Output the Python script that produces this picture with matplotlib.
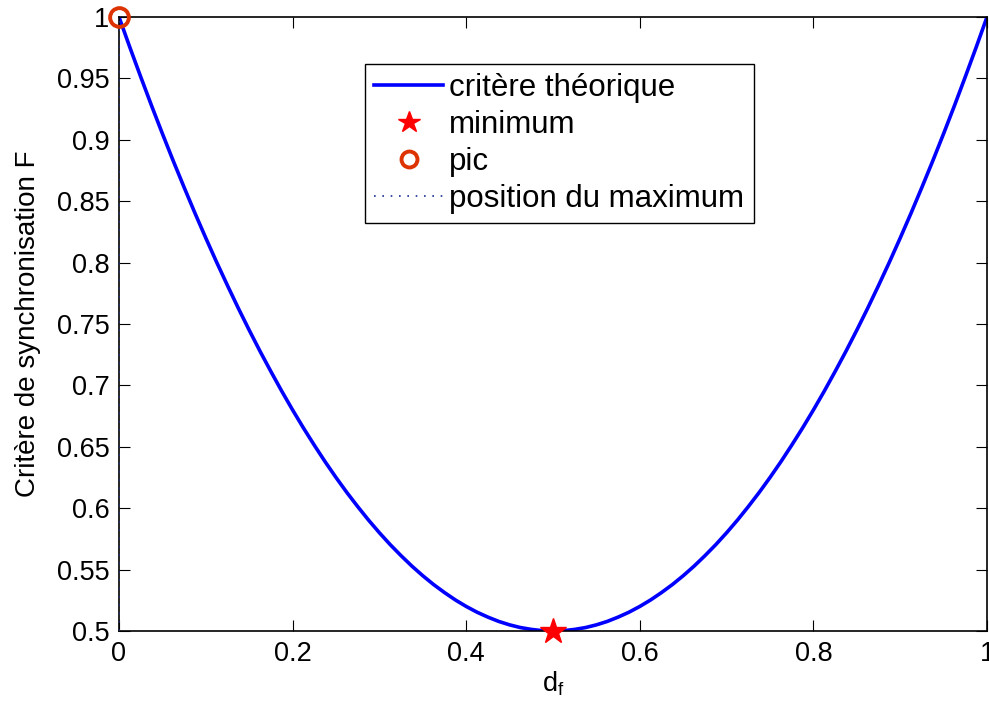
import numpy as np
import matplotlib
matplotlib.use("Agg")
import matplotlib.pyplot as plt

d_f = np.linspace(0, 1, 81)
critere = [1.0, 0.9753, 0.9513, 0.9278, 0.905, 0.8828, 0.8613, 0.8403, 0.82, 0.8003,
           0.7813, 0.7628, 0.745, 0.7278, 0.7113, 0.6953, 0.68, 0.6653, 0.6513, 0.6378,
           0.625, 0.6128, 0.6013, 0.5903, 0.58, 0.5703, 0.5613, 0.5528, 0.545, 0.5378,
           0.5313, 0.5253, 0.52, 0.5153, 0.5113, 0.5078, 0.505, 0.5028, 0.5013, 0.5003,
           0.5,
           0.5003, 0.5013, 0.5028, 0.505, 0.5078, 0.5113, 0.5153, 0.52, 0.5253, 0.5313,
           0.5378, 0.545, 0.5528, 0.5613, 0.5703, 0.58, 0.5903, 0.6013, 0.6128, 0.625,
           0.6378, 0.6513, 0.6653, 0.68, 0.6953, 0.7113, 0.7278, 0.745, 0.7628, 0.7813,
           0.8003, 0.82, 0.8403, 0.8613, 0.8828, 0.905, 0.9278, 0.9513, 0.9753, 1.0]
min_pos = (0.5, 0.5)
pic_pos = (0.0, 1.0)
max_line_x = [0.0, 0.0]
max_line_y = [0.5, 1.0]

xticks = [0, 0.2, 0.4, 0.6, 0.8, 1]
xticklabels = ["0", "0.2", "0.4", "0.6", "0.8", "1"]
yticks = [0.5, 0.55, 0.6, 0.65, 0.7, 0.75, 0.8, 0.85, 0.9, 0.95, 1.0]
yticklabels = ["0.5", "0.55", "0.6", "0.65", "0.7", "0.75", "0.8", "0.85", "0.9", "0.95", "1"]

plt.rcParams["font.family"] = ["Liberation Sans", "DejaVu Sans"]
plt.rcParams["mathtext.default"] = "regular"
fs = 19.5

fig = plt.figure(figsize=(9.89, 7.11), dpi=100)
ax = fig.add_axes([119 / 989, 1 - 631 / 711, 868 / 989, 614 / 711])

ax.plot(d_f, critere, color="#0000ff", lw=2.6, label="critère théorique")
ax.plot(*min_pos, linestyle="none", marker="*", ms=19, color="#ff0000",
        mec="#ff0000", label="minimum", clip_on=False, zorder=5)
ax.plot(*pic_pos, linestyle="none", marker="o", ms=13.5, mfc="none", mec="#dd3300",
        mew=2.8, label="pic", clip_on=False, zorder=5)
ax.plot(max_line_x, max_line_y, linestyle=(0, (1, 4)), color="#1a2f8f", lw=1.2,
        label="position du maximum", zorder=4)

ax.set_xlim(0, 1)
ax.set_ylim(0.5, 1)
ax.set_xticks(xticks)
ax.set_xticklabels(xticklabels)
ax.set_yticks(yticks)
ax.set_yticklabels(yticklabels)
ax.tick_params(direction="in", length=8, width=0.8, labelsize=fs,
               top=True, right=True, pad=7)
for s in ax.spines.values():
    s.set_linewidth(1.2)

ax.set_xlabel(r"d$_{f}$", fontsize=fs, labelpad=2)
ax.set_ylabel("Critère de synchronisation F", fontsize=20, labelpad=11)

leg = ax.legend(loc="upper left", bbox_to_anchor=(0.2834, 0.9235), borderaxespad=0,
                fontsize=22.5, frameon=True, fancybox=False, edgecolor="black",
                handlelength=2.2, handletextpad=0.2, labelspacing=0.22,
                borderpad=0.3, framealpha=1, markerscale=0.85)
leg.get_frame().set_linewidth(1.0)

fig.savefig("out.png", dpi=100)
